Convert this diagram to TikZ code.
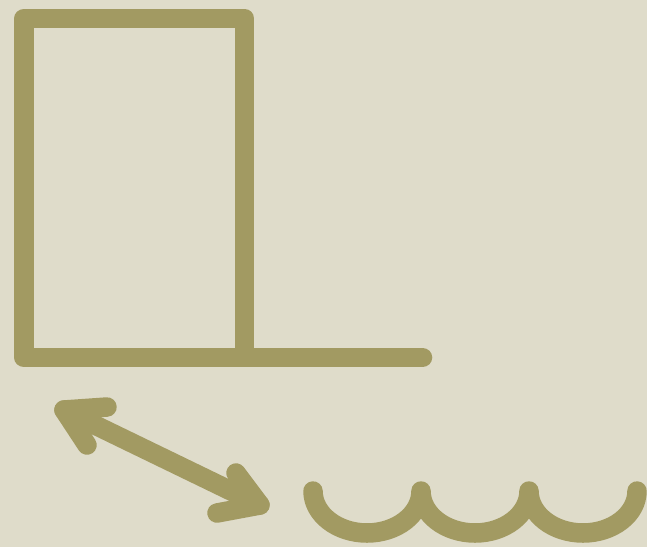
\documentclass[tikz,border=0pt]{standalone}
\usepackage{tikz}
\definecolor{iconBg}{HTML}{DFDCCA}
\definecolor{iconInk}{HTML}{A29A62}

\begin{document}
\begin{tikzpicture}[x=1pt,y=1pt,
  ink/.style={draw=iconInk,line width=19.5pt,line cap=round,line join=round}
]
\fill[iconBg] (0,0) rectangle (647,-547);
\useasboundingbox (0,0) rectangle (647,-547);
% box standing on the floor line
\coordinate (boxtl) at (24,-18.5);
\coordinate (fl) at (244.5,-357.5);
\coordinate (fr) at (422.5,-357.5);
\draw[ink] (boxtl) rectangle (fl);
\draw[ink] (fl) -- (fr);
% double arrow
\coordinate (a1) at (64,-410);
\coordinate (a2) at (260,-505);
\draw[ink] (a1) -- (a2);
\draw[ink] (107,-407) -- (a1) -- (87,-445);
\draw[ink] (236,-473) -- (a2) -- (217,-513);
% waves
\coordinate (w0) at (313,-491);
\draw[ink] (w0) arc[start angle=180,end angle=360,x radius=54pt,y radius=42pt]
  arc[start angle=180,end angle=360,x radius=54pt,y radius=42pt]
  arc[start angle=180,end angle=360,x radius=54pt,y radius=42pt];
\end{tikzpicture}
\end{document}
